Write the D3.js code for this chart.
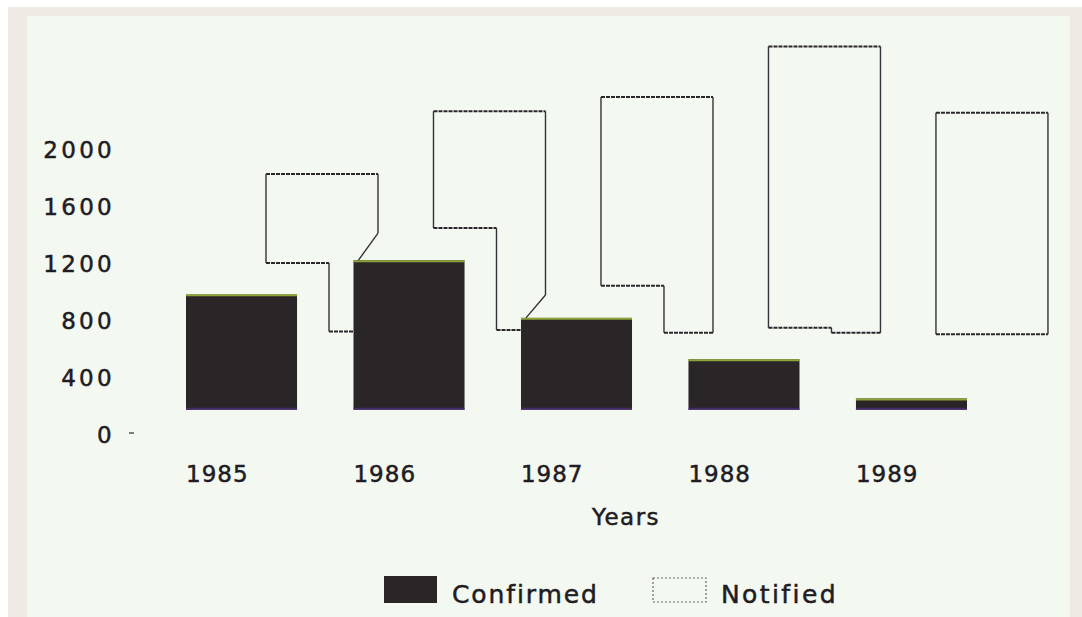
<!DOCTYPE html>
<html>
<head>
<meta charset="utf-8">
<script src="https://cdn.jsdelivr.net/npm/d3@7"></script>
<style>
  html, body { margin: 0; padding: 0; background: #ffffff; }
  svg { display: block; }
  text { font-family: "DejaVu Sans", sans-serif; fill: #1f1c23; stroke: #1f1c23; stroke-width: 0.5px; }
</style>
</head>
<body>
<div id="chart-area"></div>
<script>
// values
var years = ["1985", "1986", "1987", "1988", "1989"];
var confirmed = [980, 1220, 815, 525, 250];
var confirmedBase = 170;               // bars float above the "0" label in the original
var notifiedTop = [1825, 2265, 2365, 2720, 2255];
var notifiedLow = [1200, 1445, 1040, 745, 700];   // left-hand floor of the outline
var notifiedFloor = [720, 730, 710, 710, 700];    // right-hand floor of the outline
var notifiedJoint = [1410, 975, null, null, null]; // where the right edge breaks towards the next bar
var yTicks = [0, 400, 800, 1200, 1600, 2000];

var width = 1082, height = 617;

var svg = d3.select("#chart-area")
  .append("svg")
    .attr("width", width)
    .attr("height", height);

// scanned page: white edge, beige mount, pale paper
svg.append("rect")
  .attr("x", 0).attr("y", 0)
  .attr("width", width).attr("height", height)
  .attr("fill", "#ffffff");
svg.append("rect")
  .attr("x", 8).attr("y", 7)
  .attr("width", width - 8).attr("height", height - 7)
  .attr("fill", "#eeebe4");
svg.append("rect")
  .attr("x", 27).attr("y", 16)
  .attr("width", 1043).attr("height", height - 16)
  .attr("fill", "#f3f8f1");

var y = d3.scaleLinear()
  .domain([0, 2000])
  .range([434, 149]);

var x = d3.scaleBand()
  .domain(years)
  .range([186, 967])
  .paddingInner(0.337)
  .paddingOuter(0);

// y labels
svg.selectAll(".ylab")
  .data(yTicks)
  .enter().append("text")
    .attr("class", "ylab")
    .attr("x", 115)
    .attr("y", function(d) { return y(d) + 8.5; })
    .attr("text-anchor", "end")
    .attr("font-size", 23)
    .attr("letter-spacing", 3.3)
    .text(function(d) { return d; });

svg.append("line")
  .attr("x1", 129).attr("x2", 134)
  .attr("y1", y(0) - 1).attr("y2", y(0) - 1)
  .attr("stroke", "#555").attr("stroke-width", 1.5);

// confirmed bars
var bars = svg.selectAll(".bar")
  .data(years)
  .enter().append("g")
    .attr("class", "bar");

bars.append("rect")
  .attr("x", function(d) { return x(d); })
  .attr("y", function(d, i) { return y(confirmed[i]); })
  .attr("width", x.bandwidth())
  .attr("height", function(d, i) { return y(confirmedBase) - y(confirmed[i]); })
  .attr("fill", "#2a2627");

bars.append("line")
  .attr("x1", function(d) { return x(d); })
  .attr("x2", function(d) { return x(d) + x.bandwidth(); })
  .attr("y1", function(d, i) { return y(confirmed[i]) + 1; })
  .attr("y2", function(d, i) { return y(confirmed[i]) + 1; })
  .attr("stroke", "#a9c43c").attr("stroke-width", 2).attr("opacity", 0.8);

bars.append("line")
  .attr("x1", function(d) { return x(d); })
  .attr("x2", function(d) { return x(d) + x.bandwidth(); })
  .attr("y1", y(confirmedBase) - 1)
  .attr("y2", y(confirmedBase) - 1)
  .attr("stroke", "#4a2a78").attr("stroke-width", 2).attr("opacity", 0.8);

// notified outlines, built as segments: horizontals dotted, verticals solid
var segs = [];
years.forEach(function(yr, i) {
  var L = x(yr) + 80, R = x(yr) + 192, S = x(yr) + 143;
  var next = years[i + 1];
  segs.push({x1: L, y1: notifiedTop[i], x2: R, y2: notifiedTop[i], h: true});
  segs.push({x1: L, y1: notifiedTop[i], x2: L, y2: notifiedLow[i], h: false});
  if (notifiedLow[i] === notifiedFloor[i]) {
    segs.push({x1: L, y1: notifiedLow[i], x2: R, y2: notifiedLow[i], h: true});
    segs.push({x1: R, y1: notifiedTop[i], x2: R, y2: notifiedFloor[i], h: false});
    return;
  }
  segs.push({x1: L, y1: notifiedLow[i], x2: S, y2: notifiedLow[i], h: true});
  segs.push({x1: S, y1: notifiedLow[i], x2: S, y2: notifiedFloor[i], h: false});
  if (notifiedJoint[i] !== null) {
    segs.push({x1: S, y1: notifiedFloor[i], x2: x(next), y2: notifiedFloor[i], h: true});
    segs.push({x1: R, y1: notifiedTop[i], x2: R, y2: notifiedJoint[i], h: false});
    segs.push({x1: R, y1: notifiedJoint[i], x2: x(next) + 5, y2: confirmed[i + 1], h: false});
  } else {
    segs.push({x1: S, y1: notifiedFloor[i], x2: R, y2: notifiedFloor[i], h: true});
    segs.push({x1: R, y1: notifiedTop[i], x2: R, y2: notifiedFloor[i], h: false});
  }
});

svg.selectAll(".nseg")
  .data(segs)
  .enter().append("line")
    .attr("class", "nseg")
    .attr("x1", function(d) { return d.x1; })
    .attr("x2", function(d) { return d.x2; })
    .attr("y1", function(d) { return y(d.y1); })
    .attr("y2", function(d) { return y(d.y2); })
    .attr("stroke", function(d) { return d.h ? "#2a272c" : "#343236"; })
    .attr("stroke-width", function(d) { return d.h ? 2 : 1.4; })
    .attr("stroke-dasharray", function(d) { return d.h ? "4,1" : null; });

// year labels, set flush with the left edge of each bar
svg.selectAll(".xlab")
  .data(years)
  .enter().append("text")
    .attr("class", "xlab")
    .attr("x", function(d) { return x(d); })
    .attr("y", 482)
    .attr("font-size", 23)
    .attr("letter-spacing", 1)
    .text(function(d) { return d; });

svg.append("text")
  .attr("x", 626)
  .attr("y", 525)
  .attr("text-anchor", "middle")
  .attr("font-size", 23)
  .attr("letter-spacing", 1.5)
  .text("Years");

// legend
svg.append("rect")
  .attr("x", 384).attr("y", 576)
  .attr("width", 53).attr("height", 27)
  .attr("fill", "#2a2627");
svg.append("text")
  .attr("x", 452).attr("y", 603)
  .attr("font-size", 25)
  .attr("letter-spacing", 1.9)
  .text("Confirmed");

svg.append("rect")
  .attr("x", 653).attr("y", 578)
  .attr("width", 53).attr("height", 24)
  .attr("fill", "none")
  .attr("stroke", "#6a686c")
  .attr("stroke-width", 1.2)
  .attr("stroke-dasharray", "2,2");
svg.append("text")
  .attr("x", 721).attr("y", 603)
  .attr("font-size", 25)
  .attr("letter-spacing", 2.4)
  .text("Notified");
</script>
</body>
</html>
